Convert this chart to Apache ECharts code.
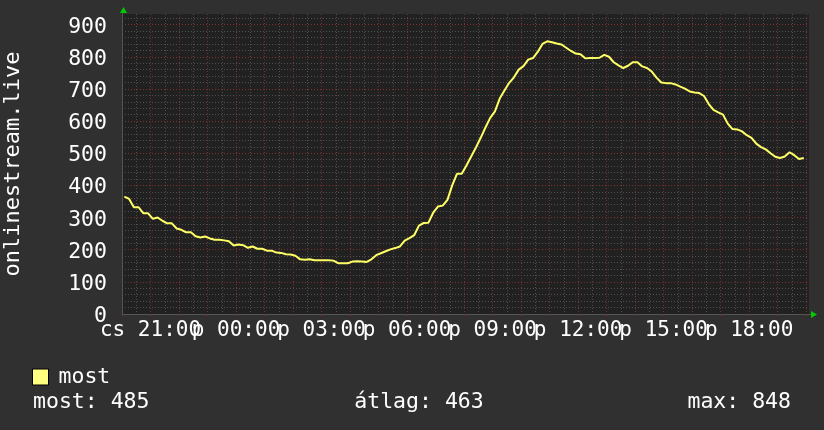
<!DOCTYPE html>
<html>
<head>
<meta charset="utf-8">
<script src="https://cdn.jsdelivr.net/npm/echarts@6/dist/echarts.min.js"></script>
<style>
html,body{margin:0;padding:0;background:#303030;}
#c{width:824px;height:430px;}
</style>
</head>
<body>
<div id="c"></div>
<script>
// ---- data ----
const seriesName = 'most';
const yAxisTitle = 'onlinestream.live';
// sample times: every 10 minutes starting Thu 20:05 (hours, >24 = next day)
const sampleStartHour = 20 + 5 / 60;
const sampleStepHour = 10 / 60;
const values = [
  365, 358, 332, 332, 313, 313, 296, 300, 290, 282,
  282, 266, 262, 254, 254, 242, 238, 241, 235, 231,
  231, 229, 226, 213, 216, 214, 206, 210, 203, 203,
  197, 197, 191, 190, 186, 185, 181, 170, 169, 170,
  167, 167, 167, 167, 166, 158, 158, 158, 163, 164,
  163, 162, 170, 183, 189, 195, 201, 205, 210, 228,
  236, 245, 275, 283, 284, 315, 334, 337, 355, 400,
  436, 436, 462, 490, 518, 548, 580, 610, 630, 670,
  695, 719, 736, 760, 771, 791, 796, 815, 840, 848,
  845, 841, 838, 828, 818, 810, 808, 795, 796, 796,
  797, 806, 800, 783, 773, 765, 772, 783, 783, 770,
  765, 754, 735, 720, 718, 718, 714, 707, 701, 692,
  689, 687, 678, 653, 635, 627, 620, 592, 575, 574,
  568, 556, 548, 530, 519, 512, 500, 489, 485, 490,
  503, 494, 482, 485
];
const tickHours = [21, 24, 27, 30, 33, 36, 39, 42];
const tickLabels = ['cs 21:00', 'p 00:00', 'p 03:00', 'p 06:00', 'p 09:00', 'p 12:00', 'p 15:00', 'p 18:00'];
const statTexts = ['most: 485', 'átlag: 463', 'max: 848'];

const X_MIN = 20, X_MAX = 44.1, Y_MIN = 0, Y_MAX = 933;

const points = values.map((v, i) => [sampleStartHour + i * sampleStepHour, v]);

const FONT = 'DejaVu Sans Mono';
const RED = '#7d2e2e';
const GRAY = '#505050';
const AXIS = '#555555';

const chart = echarts.init(document.getElementById('c'), null, {renderer: 'canvas'});
const option = {
  backgroundColor: '#303030',
  animation: false,
  textStyle: {fontFamily: FONT},
  grid: {left: 122, right: 15, top: 14, bottom: 116, show: true, backgroundColor: '#212121', borderWidth: 0,
         containLabel: false, outerBoundsMode: 'none'},
  legend: {
    show: true, left: 32, top: 366, padding: 0,
    itemWidth: 16, itemHeight: 16, icon: 'rect',
    itemStyle: {color: '#ffff80', borderColor: '#000', borderWidth: 1},
    textStyle: {color: '#fff', fontSize: 21.5, fontFamily: FONT, padding: [0, 0, 0, 5]},
    data: [seriesName]
  },
  xAxis: [
    {
      type: 'value', min: X_MIN, max: X_MAX, interval: 1, z: 1,
      axisLine: {show: true, onZero: false, lineStyle: {color: AXIS, width: 1}},
      axisTick: {show: true, length: 2, lineStyle: {color: RED}},
      splitLine: {show: true, showMinLine: false, showMaxLine: false, lineStyle: {color: RED, type: [1, 2], width: 1}},
      axisLabel: {
        color: '#fff', fontSize: 21, fontFamily: FONT, margin: 6,
        showMinLabel: true, showMaxLabel: false, hideOverlap: false,
        formatter: v => { const k = tickHours.findIndex(h => Math.abs(h - v) < 1e-6); return k >= 0 ? tickLabels[k] : ''; }
      }
    },
    {
      type: 'value', min: X_MIN, max: X_MAX, interval: 0.5, z: 0, position: 'bottom',
      axisLine: {show: false}, axisTick: {show: false}, axisLabel: {show: false},
      splitLine: {show: true, showMinLine: false, showMaxLine: false, lineStyle: {color: GRAY, type: [1, 2], width: 1}}
    }
  ],
  yAxis: [
    {
      type: 'value', min: Y_MIN, max: Y_MAX, interval: 100, z: 1,
      name: yAxisTitle, nameLocation: 'middle', nameGap: 98, nameRotate: 90,
      nameTextStyle: {color: '#fff', fontSize: 22, fontFamily: FONT},
      axisLine: {show: true, lineStyle: {color: AXIS, width: 1}},
      axisTick: {show: false},
      splitLine: {show: true, showMaxLine: false, lineStyle: {color: RED, type: [1, 2], width: 1}},
      axisLabel: {color: '#fff', fontSize: 21.5, fontFamily: FONT, margin: 15, showMaxLabel: false,
                  verticalAlign: 'top', lineHeight: 5}
    },
    {
      type: 'value', min: Y_MIN, max: Y_MAX, interval: 20, z: 0, position: 'left',
      axisLine: {show: false}, axisTick: {show: false}, axisLabel: {show: false},
      splitLine: {show: true, showMaxLine: false, showMinLine: false, lineStyle: {color: GRAY, type: [1, 2], width: 1}}
    }
  ],
  series: [{
    name: seriesName, type: 'line', xAxisIndex: 0, yAxisIndex: 0,
    data: points, showSymbol: false, symbol: 'none', smooth: false,
    lineStyle: {color: '#ffff66', width: 2},
    itemStyle: {color: '#ffff80'},
    z: 5
  }]
};
chart.setOption(option);

// decorations derived from the axes' scales
const topLeft = chart.convertToPixel({xAxisIndex: 0, yAxisIndex: 0}, [X_MIN, Y_MAX]);
const botRight = chart.convertToPixel({xAxisIndex: 0, yAxisIndex: 0}, [X_MAX, Y_MIN]);
const statY = 402;
const statFont = '21.5px "' + FONT + '"';
chart.setOption({
  graphic: [
    {type: 'polygon', shape: {points: [[topLeft[0] + 1.5, topLeft[1] - 7], [topLeft[0] - 2, topLeft[1] - 1], [topLeft[0] + 5, topLeft[1] - 1]]}, style: {fill: '#00cc00'}, z: 10},
    {type: 'line', shape: {x1: botRight[0], y1: botRight[1] + 0.5, x2: botRight[0] + 3, y2: botRight[1] + 0.5}, style: {stroke: AXIS, lineWidth: 1}},
    {type: 'polygon', shape: {points: [[botRight[0] + 8, botRight[1] + 0.5], [botRight[0] + 2, botRight[1] - 3], [botRight[0] + 2, botRight[1] + 4]]}, style: {fill: '#00cc00'}, z: 10},
    {type: 'text', x: 33, y: statY, style: {text: statTexts[0], fill: '#fff', font: statFont, textAlign: 'left', textVerticalAlign: 'middle'}},
    {type: 'text', x: 419, y: statY, style: {text: statTexts[1], fill: '#fff', font: statFont, textAlign: 'center', textVerticalAlign: 'middle'}},
    {type: 'text', x: 791, y: statY, style: {text: statTexts[2], fill: '#fff', font: statFont, textAlign: 'right', textVerticalAlign: 'middle'}}
  ]
});
</script>
</body>
</html>
